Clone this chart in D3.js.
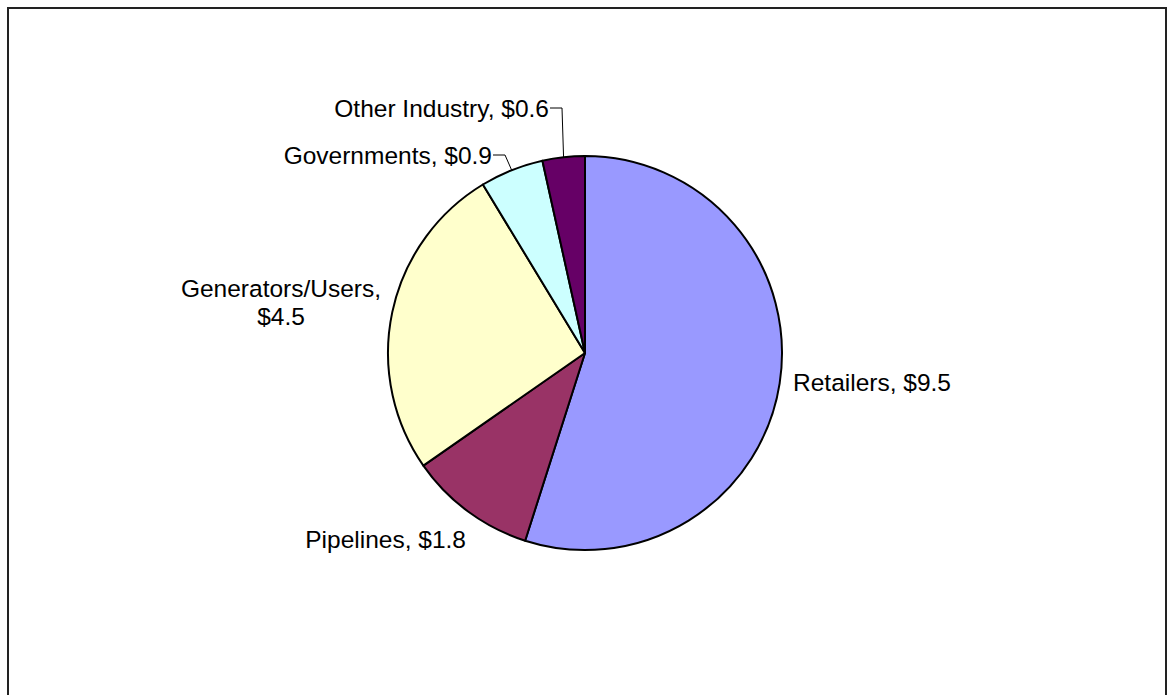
<!DOCTYPE html>
<html>
<head>
<meta charset="utf-8">
<script src="https://cdn.jsdelivr.net/npm/d3@7/dist/d3.min.js"></script>
<style>
  html, body { margin: 0; padding: 0; background: #fff; }
  svg { display: block; }
  text { font-family: "Liberation Sans", Arial, sans-serif; fill: #000; }
</style>
</head>
<body>
<svg id="chart" width="1170" height="695"></svg>
<script>
// Spending by sector (billions of dollars)
const categories = ["Retailers", "Pipelines", "Generators/Users", "Governments", "Other Industry"];
const values = [9.5, 1.8, 4.5, 0.9, 0.6];
const colors = ["#9999FF", "#993366", "#FFFFCC", "#CCFFFF", "#660066"];

const W = 1170, H = 695;
const cx = 585, cy = 353, R = 197;
const fontSize = 24.5;

const svg = d3.select("#chart");

// Outer frame (bottom edge runs past the visible area)
svg.append("rect")
  .attr("x", 8).attr("y", 8)
  .attr("width", 1158).attr("height", 720)
  .attr("fill", "#fff")
  .attr("stroke", "#222")
  .attr("stroke-width", 2);

const data = categories.map((c, i) => ({ name: c, value: values[i], color: colors[i] }));

const pie = d3.pie().sort(null).value(d => d.value);
const arcs = pie(data);
const arc = d3.arc().innerRadius(0).outerRadius(R);

const g = svg.append("g").attr("transform", `translate(${cx},${cy})`);

g.selectAll("path.slice")
  .data(arcs)
  .join("path")
  .attr("class", "slice")
  .attr("d", arc)
  .attr("fill", d => d.data.color)
  .attr("stroke", "#000")
  .attr("stroke-width", 2)
  .attr("stroke-linejoin", "round");

const fmt = v => "$" + d3.format(".1f")(v);

// point on the rim at the middle of a slice
function rimPoint(d, r) {
  const a = (d.startAngle + d.endAngle) / 2;
  return [cx + r * Math.sin(a), cy - r * Math.cos(a)];
}

// label placement per slice (anchor, position, optional leader line)
const labelLayout = {
  "Retailers":        { x: 793, y: 391, anchor: "start" },
  "Pipelines":        { x: 466, y: 548, anchor: "end" },
  "Generators/Users": { x: 281, y: 297, anchor: "middle", wrap: true },
  "Governments":      { x: 492, y: 163.5, anchor: "end", leader: true },
  "Other Industry":   { x: 549, y: 116.5, anchor: "end", leader: true }
};

const labels = svg.append("g");

arcs.forEach(d => {
  const L = labelLayout[d.data.name];
  const t = labels.append("text")
    .attr("text-anchor", L.anchor)
    .attr("font-size", fontSize);
  if (L.wrap) {
    t.append("tspan").attr("x", L.x).attr("y", L.y).text(d.data.name + ",");
    t.append("tspan").attr("x", L.x).attr("y", L.y + 28).text(fmt(d.data.value));
  } else {
    t.attr("x", L.x).attr("y", L.y).text(d.data.name + ", " + fmt(d.data.value));
  }
  if (L.leader) {
    const [px, py] = rimPoint(d, R);
    const ly = L.y - 8.5;
    labels.append("path")
      .attr("d", `M${L.x + 1},${ly} H${L.x + 13} L${px},${py}`)
      .attr("fill", "none")
      .attr("stroke", "#000")
      .attr("stroke-width", 1);
  }
});
</script>
</body>
</html>
